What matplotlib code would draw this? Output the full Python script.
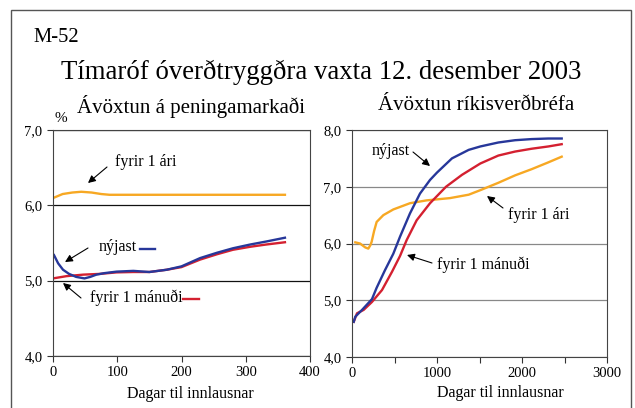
import matplotlib
matplotlib.use("Agg")
import matplotlib.pyplot as plt
from matplotlib.patches import Rectangle, FancyArrowPatch
from matplotlib.ticker import FuncFormatter, FixedLocator

plt.rcParams['font.family'] = ['Liberation Serif', 'DejaVu Serif']

# ---- Data: money market (days, yield %) ----
mm_days_new = [1.5, 8, 15.6, 25, 36, 49, 58, 67.5, 80, 99, 125, 150, 177, 200, 229, 255, 280, 307, 332, 361]
mm_new = [5.34, 5.23, 5.145, 5.09, 5.05, 5.03, 5.05, 5.08, 5.10, 5.12, 5.13, 5.115, 5.145, 5.19, 5.30, 5.37, 5.43, 5.48, 5.52, 5.57]
mm_days_1m = [0, 21, 47, 73, 99, 125, 150, 177, 200, 229, 255, 280, 307, 332, 361]
mm_1m = [5.03, 5.06, 5.08, 5.09, 5.11, 5.115, 5.115, 5.145, 5.18, 5.28, 5.35, 5.41, 5.45, 5.48, 5.51]
mm_days_1y = [1, 15, 30, 44, 60, 75, 88, 120, 200, 300, 361]
mm_1y = [6.10, 6.15, 6.17, 6.18, 6.17, 6.15, 6.14, 6.14, 6.14, 6.14, 6.14]

# ---- Data: government securities ----
gs_days_new = [20, 39, 118, 235, 290, 388, 486, 565, 682, 800, 918, 1000, 1176, 1373, 1510, 1722, 1918, 2114, 2310, 2467]
gs_new = [4.62, 4.71, 4.83, 5.02, 5.22, 5.53, 5.82, 6.12, 6.53, 6.88, 7.12, 7.25, 7.50, 7.65, 7.71, 7.78, 7.82, 7.84, 7.85, 7.85]
gs_days_1m = [20, 59, 137, 235, 353, 470, 565, 643, 761, 918, 1106, 1294, 1510, 1722, 1918, 2114, 2310, 2467]
gs_1m = [4.62, 4.77, 4.83, 4.97, 5.18, 5.50, 5.78, 6.06, 6.41, 6.71, 7.00, 7.21, 7.41, 7.55, 7.62, 7.67, 7.71, 7.75]
gs_days_1y = [39, 94, 157, 192, 216, 231, 260, 290, 369, 486, 682, 878, 1153, 1373, 1510, 1722, 1918, 2114, 2310, 2467]
gs_1y = [6.02, 6.00, 5.93, 5.91, 5.97, 6.03, 6.22, 6.38, 6.50, 6.60, 6.71, 6.76, 6.80, 6.86, 6.94, 7.07, 7.20, 7.31, 7.43, 7.53]

yticks_left = [4.0, 5.0, 6.0, 7.0]
yticks_right = [4.0, 5.0, 6.0, 7.0, 8.0]
xticks_left = [0, 100, 200, 300, 400]
xticks_right = [0, 1000, 2000, 3000]

BLUE = '#27379A'
RED = '#D42030'
ORANGE = '#F7A823'

W, H = 635, 408
fig = plt.figure(figsize=(W / 100, H / 100), dpi=100)

def fx(x):
    return x / W

def fy(y):
    return 1 - y / H

# outer frame
fig.patches.append(Rectangle((fx(11), fy(420)), fx(631) - fx(11), fy(10) - fy(420),
                             transform=fig.transFigure, fill=False, ec='#555555', lw=1.0))

comma = FuncFormatter(lambda v, p: f"{v:.1f}".replace('.', ','))

def style(ax, grid_color):
    for s in ax.spines.values():
        s.set_color('#444444')
        s.set_linewidth(0.8)
    ax.tick_params(direction='out', length=4, width=0.8, labelsize=10.5, color='#333333')
    ax.yaxis.set_major_formatter(comma)
    ax.grid(axis='y', color=grid_color, lw=0.9)
    ax.set_axisbelow(True)

# left axes
ax1 = fig.add_axes([fx(53), fy(356), fx(310) - fx(53), fy(130) - fy(356)])
ax1.plot(mm_days_1y, mm_1y, color=ORANGE, lw=1.7)
ax1.plot(mm_days_1m, mm_1m, color=RED, lw=1.7)
ax1.plot(mm_days_new, mm_new, color=BLUE, lw=1.7)
ax1.set_xlim(0, 400)
ax1.set_ylim(4.0, 7.0)
ax1.set_xticks(xticks_left)
ax1.set_yticks(yticks_left)
style(ax1, '#111111')

# right axes
ax2 = fig.add_axes([fx(352), fy(357), fx(607) - fx(352), fy(130) - fy(357)])
ax2.plot(gs_days_1y, gs_1y, color=ORANGE, lw=1.7)
ax2.plot(gs_days_1m, gs_1m, color=RED, lw=1.7)
ax2.plot(gs_days_new, gs_new, color=BLUE, lw=1.7)
ax2.set_xlim(0, 3000)
ax2.set_ylim(4.0, 8.0)
ax2.xaxis.set_major_locator(FixedLocator([0, 500, 1000, 1500, 2000, 2500, 3000]))
ax2.xaxis.set_major_formatter(FuncFormatter(lambda v, p: f"{int(v)}" if int(v) in xticks_right else ""))
ax2.set_yticks(yticks_right)
style(ax2, '#888888')

# titles
fig.text(fx(33), fy(38), "M-52", fontsize=14.8, ha='left', va='center')
fig.text(fx(321), fy(72), "Tímaróf óverðtryggðra vaxta 12. desember 2003", fontsize=19.3, ha='center', va='center')
fig.text(fx(191), fy(106), "Ávöxtun á peningamarkaði", fontsize=15, ha='center', va='center')
fig.text(fx(476), fy(106), "Ávöxtun ríkisverðbréfa", fontsize=15, ha='center', va='center')
fig.text(fx(61), fy(118), "%", fontsize=11, ha='center', va='center')
fig.text(fx(190), fy(394), "Dagar til innlausnar", fontsize=11.5, ha='center', va='center')
fig.text(fx(500), fy(393), "Dagar til innlausnar", fontsize=11.5, ha='center', va='center')

ap = dict(arrowstyle='-|>', color='black', lw=0.8, mutation_scale=11, shrinkA=0, shrinkB=0)

def ann(text, xy, xytext, tx, ty, ha='left'):
    fig.add_artist(FancyArrowPatch((fx(xytext[0]), fy(xytext[1])), (fx(xy[0]), fy(xy[1])),
                                   transform=fig.transFigure, **ap))
    fig.text(fx(tx), fy(ty), text, fontsize=11.5, ha=ha, va='center')

# left annotations
ann("fyrir 1 ári", (88, 183), (107, 167), 115, 162)
ann("nýjast", (65, 262), (88, 248), 99, 247)
ann("fyrir 1 mánuði", (63, 283), (81, 298), 90, 298)
fig.add_artist(plt.Line2D([fx(140), fx(155)], [fy(249), fy(249)], transform=fig.transFigure, color=BLUE, lw=1.7))
fig.add_artist(plt.Line2D([fx(183), fx(199)], [fy(299), fy(299)], transform=fig.transFigure, color=RED, lw=1.7))

# right annotations
ann("nýjast", (430, 166), (413, 152), 372, 151)
ann("fyrir 1 ári", (487, 196), (503, 208), 508, 215)
ann("fyrir 1 mánuði", (407, 255), (432, 263), 437, 265)

fig.savefig("out.png", dpi=100)
